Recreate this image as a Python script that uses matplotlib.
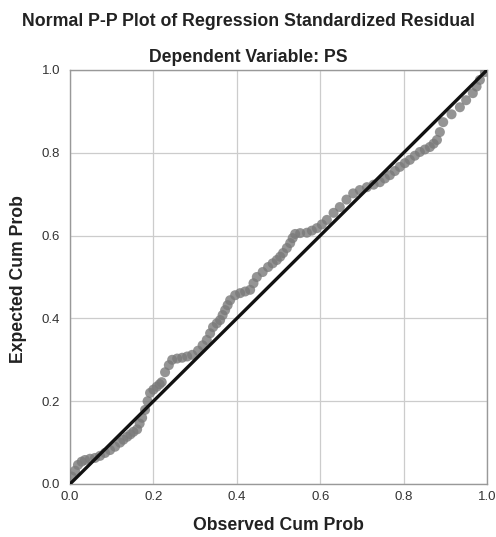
import matplotlib
matplotlib.use("Agg")
import matplotlib.pyplot as plt

# observed vs expected cumulative probabilities
observed = [0.004, 0.012, 0.019, 0.028, 0.036, 0.048, 0.06, 0.072, 0.084, 0.096,
            0.108, 0.12, 0.128, 0.137, 0.145, 0.152, 0.161, 0.167, 0.173, 0.18,
            0.186, 0.192, 0.2, 0.208, 0.215, 0.22, 0.228, 0.237, 0.245, 0.257,
            0.269, 0.281, 0.293, 0.307, 0.318, 0.328, 0.336, 0.343, 0.352, 0.36,
            0.366, 0.372, 0.378, 0.384, 0.396, 0.408, 0.42, 0.432, 0.44, 0.448,
            0.462, 0.475, 0.486, 0.496, 0.504, 0.511, 0.52, 0.528, 0.534, 0.54,
            0.552, 0.568, 0.58, 0.592, 0.604, 0.616, 0.632, 0.647, 0.663, 0.679,
            0.695, 0.712, 0.728, 0.743, 0.755, 0.767, 0.779, 0.791, 0.803, 0.815,
            0.827, 0.839, 0.851, 0.863, 0.872, 0.88, 0.887, 0.895, 0.915, 0.935,
            0.95, 0.966, 0.975, 0.983, 0.995]
expected = [0.018, 0.032, 0.046, 0.054, 0.058, 0.061, 0.063, 0.068, 0.075, 0.082,
            0.09, 0.10, 0.107, 0.114, 0.120, 0.126, 0.132, 0.146, 0.16, 0.179,
            0.20, 0.22, 0.228, 0.235, 0.241, 0.246, 0.27, 0.287, 0.30, 0.303,
            0.305, 0.308, 0.312, 0.322, 0.335, 0.348, 0.364, 0.379, 0.388, 0.396,
            0.408, 0.42, 0.432, 0.444, 0.456, 0.461, 0.465, 0.469, 0.485, 0.50,
            0.512, 0.524, 0.533, 0.541, 0.549, 0.558, 0.57, 0.582, 0.594, 0.604,
            0.606, 0.607, 0.612, 0.618, 0.627, 0.638, 0.655, 0.669, 0.687, 0.702,
            0.71, 0.717, 0.723, 0.729, 0.738, 0.746, 0.756, 0.766, 0.775, 0.783,
            0.793, 0.802, 0.808, 0.814, 0.822, 0.831, 0.85, 0.874, 0.893, 0.91,
            0.927, 0.944, 0.96, 0.976, 0.995]
ticks = [0.0, 0.2, 0.4, 0.6, 0.8, 1.0]
tick_labels = ["0.0", "0.2", "0.4", "0.6", "0.8", "1.0"]

plt.rcParams["font.family"] = ["Liberation Sans", "DejaVu Sans"]

fig = plt.figure(figsize=(4.96, 5.37), dpi=100)
ax = fig.add_axes([70 / 496, 53 / 537, 417 / 496, 414 / 537])

ax.scatter(observed, expected, s=52, color="#7a7a7a", alpha=0.8,
           edgecolors="none", zorder=3)
ax.plot([0, 1], [0, 1], color="#111111", linewidth=2.4, zorder=4)

ax.set_xlim(0, 1)
ax.set_ylim(0, 1)
ax.set_xticks(ticks)
ax.set_yticks(ticks)
ax.set_xticklabels(tick_labels)
ax.set_yticklabels(tick_labels)
ax.tick_params(length=0, labelsize=9.5, labelcolor="#333333")
ax.tick_params(axis="x", pad=5)
ax.tick_params(axis="y", pad=7)
ax.grid(True, color="#cccccc", linewidth=0.9)
ax.set_axisbelow(True)
for sp in ax.spines.values():
    sp.set_color("#999999")
    sp.set_linewidth(1.0)

fig.text(0.5, 1 - 21 / 537, "Normal P-P Plot of Regression Standardized Residual",
         ha="center", va="center", fontsize=12.8, fontweight="bold", color="#222222")
fig.text(0.5, 1 - 57 / 537, "Dependent Variable: PS",
         ha="center", va="center", fontsize=12.7, fontweight="bold", color="#222222")
fig.text(278 / 496, 1 - 525 / 537, "Observed Cum Prob",
         ha="center", va="center", fontsize=12.7, fontweight="bold", color="#222222")
fig.text(19 / 496, 1 - 279 / 537, "Expected Cum Prob", rotation=90,
         ha="center", va="center", fontsize=12.7, fontweight="bold", color="#222222")

fig.savefig("out.png", dpi=100)
